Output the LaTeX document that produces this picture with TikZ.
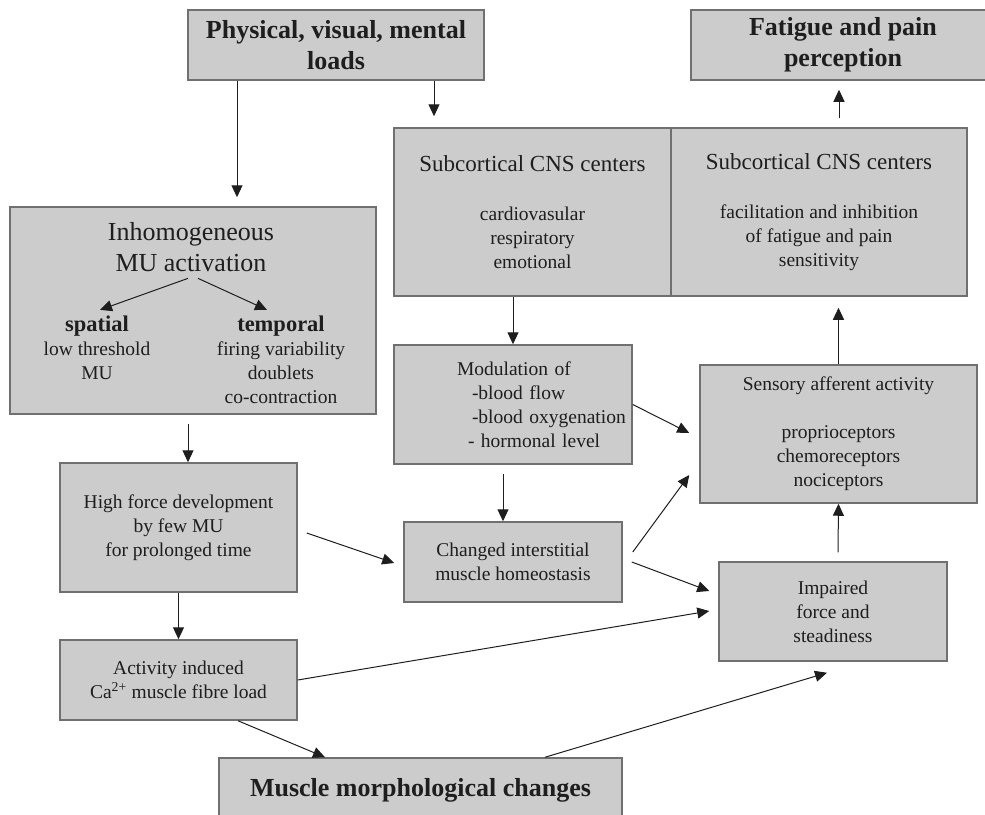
\documentclass[tikz,border=0pt]{standalone}
\usepackage{fontspec}
\setmainfont{Liberation Serif}
\usepackage{tikz}
\usetikzlibrary{arrows.meta}

\definecolor{boxfill}{RGB}{204,204,204}
\definecolor{boxline}{RGB}{112,112,112}
\definecolor{ink}{RGB}{30,30,30}

\begin{document}
\begin{tikzpicture}[
    x = 1pt, y = 1pt,
    > = {Triangle[length = 12pt, width = 11pt]},
    box/.style = {draw = boxline,
      fill = boxfill,
      line width = 1.5pt,
      inner sep = 0pt,
      align = center,
      text = ink},
    heading/.style = {font = \fontsize{26}{31}\selectfont\bfseries},
    body/.style = {font = \fontsize{19.5}{24}\selectfont},
    inner/.style = {inner sep = 0pt,
      align = center,
      text = ink},
    link/.style = {draw = ink,
      line width = 1pt},
    ]

    \useasboundingbox (0, 0) rectangle (985, -814);

    \node at (336, -45)
    [box, heading, minimum width = 296pt, minimum height = 70pt, name = loads]
    {Physical, visual, mental\\loads};
    \node at (843, -45)
    [box, heading, minimum width = 304pt, minimum height = 70pt, name = fatigue]
    {Fatigue and pain\\perception};

    \node at (532.5, -212)
    [box, body, minimum width = 277pt, minimum height = 168pt, name = cnsL]
    {{\fontsize{23}{28}\selectfont Subcortical CNS centers}\\[25pt]
      cardiovasular\\respiratory\\emotional};
    \node at (819, -212)
    [box, body, minimum width = 296pt, minimum height = 168pt, name = cnsR]
    {{\fontsize{23}{28}\selectfont Subcortical CNS centers}\\[25pt]
      facilitation and inhibition\\of fatigue and pain\\sensitivity};

    % motor unit box and its contents
    \node at (193, -310.5)
    [box, minimum width = 366pt, minimum height = 207pt, name = inhom] {};
    \node at (191, -247.5)
    [inner, font = \fontsize{26}{31}\selectfont, name = mutitle]
    {Inhomogeneous\\MU activation};
    \node at (97, -348)
    [inner, body, name = spatial]
    {{\fontsize{22.5}{26}\selectfont\bfseries spatial}\\low threshold\\MU};
    \node at (281, -360)
    [inner, body, name = temporal]
    {{\fontsize{22.5}{26}\selectfont\bfseries temporal}\\firing variability\\
      doublets\\co-contraction};

    \node at (513, -404.5)
    [box, body, align = left, text width = 238pt, minimum height = 119pt,
      name = modul]
    {\hspace*{63pt}Modulation of\\\hspace*{78pt}-blood flow\\
      \hspace*{78pt}-blood oxygenation\\\hspace*{74pt}- hormonal level};

    \node at (838.5, -434)
    [box, body, minimum width = 277pt, minimum height = 138pt, name = sensory]
    {Sensory afferent activity\\[24pt]proprioceptors\\chemoreceptors\\
      nociceptors};

    \node at (178.5, -527.5)
    [box, body, minimum width = 237pt, minimum height = 129pt, name = highforce]
    {High force development\\by few MU\\for prolonged time};
    \node at (513, -562)
    [box, body, minimum width = 218pt, minimum height = 80pt, name = changed]
    {Changed interstitial\\muscle homeostasis};
    \node at (833, -611.5)
    [box, body, minimum width = 228pt, minimum height = 99pt, name = impaired]
    {Impaired\\force and\\steadiness};
    \node at (178.5, -680)
    [box, body, minimum width = 237pt, minimum height = 80pt, name = activity]
    {Activity induced\\Ca\textsuperscript{2+} muscle fibre load};
    \node at (420.5, -790)
    [box, heading, minimum width = 403pt, minimum height = 64pt, name = muscle]
    {Muscle morphological changes};

    \draw [->, link] ([xshift = -99pt]loads.south) to
    ([shift = {(44pt, 9pt)}]inhom.north);
    \draw [->, link] ([xshift = 98pt]loads.south) to
    ([shift = {(-98.5pt, 11pt)}]cnsL.north);
    \draw [->, link] ([shift = {(20pt, 9pt)}]cnsR.north) to
    ([shift = {(-4pt, -9pt)}]fatigue.south);

    \draw [->, link] ([shift = {(-3pt, -6pt)}]mutitle.south) to
    ([shift = {(3pt, 6pt)}]spatial.north);
    \draw [->, link] ([shift = {(7pt, -6pt)}]mutitle.south) to
    ([shift = {(-14pt, 6pt)}]temporal.north);

    \draw [->, link] ([xshift = -19.5pt]cnsL.south) to (modul.north);
    \draw [->, link] (sensory.north) to
    ([shift = {(19.5pt, -11pt)}]cnsR.south);
    \draw [->, link] ([shift = {(-10pt, -9pt)}]modul.south) to
    ([xshift = -10pt]changed.north);
    \draw [->, link] (modul.east) to
    ([shift = {(-10pt, 1pt)}]sensory.west);

    \draw [->, link] ([shift = {(-5pt, -9pt)}]inhom.south) to
    ([xshift = 9.5pt]highforce.north);
    \draw [->, link] (highforce.south) to (activity.north);
    \draw [->, link] ([shift = {(9pt, -5.5pt)}]highforce.east) to
    ([shift = {(-9pt, -1pt)}]changed.west);

    \draw [->, link] ([shift = {(10pt, 10pt)}]changed.east) to
    ([shift = {(-10pt, -41pt)}]sensory.west);
    \draw [->, link] ([shift = {(9pt, 0pt)}]changed.east) to
    ([shift = {(-9pt, 20.5pt)}]impaired.west);
    \draw [->, link] ([shift = {(5pt, 9pt)}]impaired.north) to (sensory.south);

    \draw [->, link] (activity.east) to
    ([shift = {(-9pt, 0.5pt)}]impaired.west);
    \draw [->, link] ([xshift = 59.5pt]activity.south) to
    ([xshift = -95.5pt]muscle.north);
    \draw [->, link] ([xshift = 124.5pt]muscle.north) to
    ([shift = {(-6pt, -11pt)}]impaired.south);
  \end{tikzpicture}
\end{document}
